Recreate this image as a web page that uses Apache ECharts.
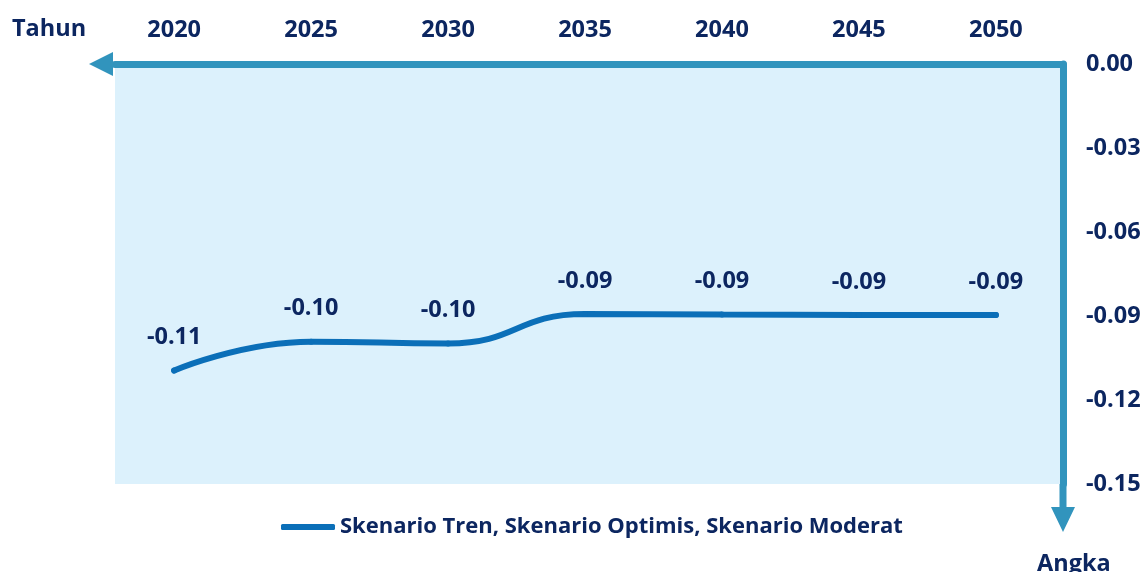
<!DOCTYPE html>
<html>
<head>
<meta charset="utf-8">
<script src="https://cdn.jsdelivr.net/npm/echarts@6/dist/echarts.min.js"></script>
<style>
  html, body { margin: 0; padding: 0; background: #fff; }
  #main { width: 1144px; height: 572px; }
</style>
</head>
<body>
<div id="main"></div>
<script>
// data
const years = [2020, 2025, 2030, 2035, 2040, 2045, 2050]
const angka = [-0.1095, -0.0992, -0.0998, -0.0893, -0.0895, -0.0896, -0.0896]
const yTicks = [0, -0.03, -0.06, -0.09, -0.12, -0.15]
const seriesName = 'Skenario Tren, Skenario Optimis, Skenario Moderat'

const navy = '#0c2660'
const axisBlue = '#3194bd'
const lineBlue = '#0b6fb8'
const font = 'Open Sans'
const fs = 23.5

const chart = echarts.init(document.getElementById('main'))

const option = {
  backgroundColor: '#fff',
  animation: false,
  textStyle: { fontFamily: font },
  title: [
    { text: 'Tahun', left: 7, top: 12, textStyle: { color: navy, fontSize: fs, fontWeight: 'bold', fontFamily: font } },
    { text: 'Angka', left: 1032, top: 547, textStyle: { color: navy, fontSize: fs, fontWeight: 'bold', fontFamily: font } }
  ],
  grid: {
    left: 115,
    right: 81,
    top: 64,
    bottom: 88,
    show: true,
    backgroundColor: '#dcf1fc',
    borderWidth: 0
  },
  legend: {
    left: 276,
    top: 511,
    icon: 'roundRect',
    itemWidth: 54,
    itemHeight: 6,
    textStyle: { color: navy, fontSize: 22, fontWeight: 'bold', fontFamily: font },
    data: [seriesName]
  },
  xAxis: {
    type: 'value',
    position: 'top',
    min: 2017.84,
    max: 2052.45,
    splitLine: { show: false },
    axisTick: { show: false },
    axisLine: {
      show: true,
      onZero: false,
      symbol: ['path://M12,0 L24,24 L0,24 Z', 'none'],
      symbolSize: [24, 24],
      symbolOffset: [-14, 0],
      lineStyle: { color: axisBlue, width: 7, cap: 'round' }
    },
    axisLabel: {
      customValues: years,
      margin: 22,
      color: navy,
      fontSize: fs,
      fontWeight: 'bold',
      fontFamily: font,
      formatter: v => String(v)
    }
  },
  yAxis: {
    type: 'value',
    position: 'right',
    min: -0.15,
    max: 0,
    interval: 0.03,
    splitLine: { show: false },
    axisTick: { show: false },
    axisLine: {
      show: true,
      onZero: false,
      symbol: ['path://M12,0 L24,25 L15.5,25 L15.5,48 L8.5,48 L8.5,25 L0,25 Z', 'none'],
      symbolSize: [24, 48],
      symbolOffset: [-24, 0],
      lineStyle: { color: axisBlue, width: 7, cap: 'round' }
    },
    axisLabel: {
      customValues: yTicks,
      margin: 23,
      color: navy,
      fontSize: fs,
      fontWeight: 'bold',
      fontFamily: font,
      formatter: v => v.toFixed(2)
    }
  },
  series: [{
    name: seriesName,
    type: 'line',
    smooth: 0.5,
    data: years.map((y, i) => [y, angka[i]]),
    symbol: 'circle',
    symbolSize: 6,
    itemStyle: { color: lineBlue },
    lineStyle: { color: lineBlue, width: 6, cap: 'round' },
    label: {
      show: true,
      position: 'top',
      distance: 18,
      color: navy,
      fontSize: fs,
      fontWeight: 'bold',
      fontFamily: font,
      formatter: p => p.value[1].toFixed(2)
    }
  }]
}

chart.setOption(option)
</script>
</body>
</html>
